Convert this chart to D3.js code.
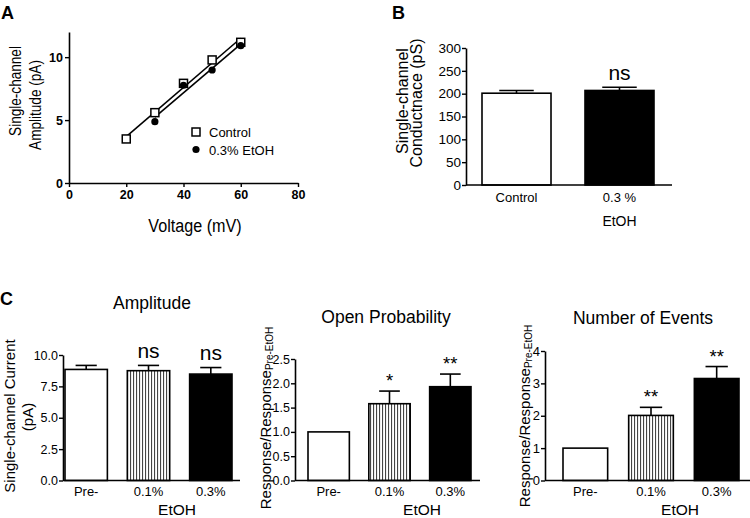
<!DOCTYPE html>
<html><head><meta charset="utf-8">
<script src="https://cdn.jsdelivr.net/npm/d3@7"></script>
<style>
body{margin:0;background:#fff;}
svg{display:block;font-family:"Liberation Sans",Arial,sans-serif;}
</style></head>
<body>
<svg id="c" width="750" height="518"></svg>
<script>
// ---------- DATA ----------
// Panel A: single-channel amplitude vs voltage
const voltageControl = [20, 30, 40, 50, 60];
const ampControl = [3.5, 5.59, 7.92, 9.78, 11.18];
const voltageEtOH = [30, 40, 50, 60];
const ampEtOH = [4.87, 7.77, 8.98, 10.91];
const aXTicks = [0, 20, 40, 60, 80];
const aYTicks = [0, 5, 10];

// Panel B: conductance
const bCategories = ["Control", "0.3 %"];
const bValues = [201, 207];
const bErrors = [6, 7];
const bTicks = [0, 50, 100, 150, 200, 250, 300];
const bSig = ["", "ns"];

// Panel C
const cCategories = ["Pre-", "0.1%", "0.3%"];
const ampValues = [8.85, 8.75, 8.48];
const ampErrors = [0.32, 0.42, 0.52];
const ampSig = ["", "ns", "ns"];
const ampTicks = [0, 2.5, 5, 7.5, 10];

const opValues = [1.0, 1.58, 1.93];
const opErrors = [0, 0.26, 0.26];
const opSig = ["", "*", "**"];
const opTicks = [0, 0.5, 1, 1.5, 2, 2.5];

const evValues = [1.0, 2.01, 3.15];
const evErrors = [0, 0.25, 0.37];
const evSig = ["", "**", "**"];
const evTicks = [0, 1, 2, 3, 4];

// ---------- DRAW ----------
const svg = d3.select("#c");
const defs = svg.append("defs");
const pat = defs.append("pattern").attr("id","hatch").attr("patternUnits","userSpaceOnUse")
  .attr("width",3).attr("height",6);
pat.append("rect").attr("width",3).attr("height",6).attr("fill","#fff");
pat.append("rect").attr("x",1).attr("width",1.1).attr("height",6).attr("fill","#444");
const fills = ["#fff","url(#hatch)","#000"];

function letter(t,x,y){svg.append("text").attr("x",x).attr("y",y).attr("font-size",18).attr("font-weight","bold").text(t);}
letter("A",1,19); letter("B",392,19); letter("C",0,305);

function yLabel(g, x, y, txt, size, sx){
  return g.append("text").attr("transform",`translate(${x},${y}) rotate(-90) scale(${sx||1},1)`)
    .attr("text-anchor","middle").attr("dominant-baseline","central").attr("font-size",size).text(txt);
}

function styleAxis(g, fs, bold){
  g.selectAll("path.domain").attr("stroke","#000").attr("stroke-width",1.6);
  g.selectAll(".tick line").attr("stroke","#000").attr("stroke-width",1.4);
  g.selectAll(".tick text").attr("font-size",fs).attr("font-family","Liberation Sans, Arial, sans-serif")
    .attr("font-weight", bold ? "bold" : "normal").attr("fill","#000");
}

// ---- Panel A ----
(function(){
  const x = d3.scaleLinear().domain([0,80]).range([69,298]);
  const y = d3.scaleLinear().domain([0,12]).range([183,32]);
  const gx = svg.append("g").attr("transform","translate(0,183)")
    .call(d3.axisBottom(x).tickValues(aXTicks).tickSize(4).tickSizeOuter(0).tickPadding(3));
  styleAxis(gx,12.5,true);
  const gy = svg.append("g").attr("transform","translate(69,0)")
    .call(d3.axisLeft(y).tickValues(aYTicks).tickSize(4).tickSizeOuter(0).tickPadding(2));
  styleAxis(gy,12.5,true);
  yLabel(svg,15,91,"Single-channel",17,0.8);
  yLabel(svg,35,105,"Amplitude (pA)",17,0.8);
  svg.append("text").attr("transform","translate(195,232) scale(0.85,1)").attr("text-anchor","middle").attr("font-size",19).text("Voltage (mV)");

  function fit(xs, ys){
    const mx=d3.mean(xs), my=d3.mean(ys);
    const s=d3.sum(xs,(v,i)=>(v-mx)*(ys[i]-my))/d3.sum(xs,v=>(v-mx)*(v-mx));
    const x0=d3.min(xs), x1=d3.max(xs);
    return [[x0,my+s*(x0-mx)],[x1,my+s*(x1-mx)]];
  }
  const line = d3.line().x(d=>x(d[0])).y(d=>y(d[1]));
  [fit(voltageControl,ampControl), fit(voltageEtOH,ampEtOH)].forEach(f=>{
    svg.append("path").attr("d",line(f)).attr("stroke","#000").attr("stroke-width",1.6).attr("fill","none");
  });
  svg.selectAll(".sq").data(voltageControl).enter().append("rect")
    .attr("x",(d)=>x(d)-4).attr("y",(d,i)=>y(ampControl[i])-4).attr("width",8).attr("height",8)
    .attr("fill","#fff").attr("stroke","#000").attr("stroke-width",1.5);
  svg.selectAll(".ci").data(voltageEtOH).enter().append("circle")
    .attr("cx",d=>x(d)).attr("cy",(d,i)=>y(ampEtOH[i])).attr("r",3.6).attr("fill","#000");
  // legend
  svg.append("rect").attr("x",192).attr("y",128).attr("width",8).attr("height",8).attr("fill","#fff").attr("stroke","#000").attr("stroke-width",1.5);
  svg.append("text").attr("x",209).attr("y",137).attr("font-size",13).text("Control");
  svg.append("circle").attr("cx",196).attr("cy",149.5).attr("r",3.6).attr("fill","#000");
  svg.append("text").attr("x",209).attr("y",154.5).attr("font-size",13).text("0.3% EtOH");
})();

// ---- Bar panel helper ----
function barPanel(o){
  const x = d3.scaleBand().domain(o.cats).range([o.b0,o.b1]).paddingInner(o.pin).paddingOuter(0);
  const y = d3.scaleLinear().domain(o.ydom).range([o.base,o.top]);
  const g = svg.append("g");
  g.selectAll("rect.bar").data(o.vals).enter().append("rect")
    .attr("x",(d,i)=>x(o.cats[i])).attr("width",x.bandwidth())
    .attr("y",d=>y(d)).attr("height",d=>o.base-y(d))
    .attr("fill",(d,i)=>o.fills[i]).attr("stroke","#000").attr("stroke-width",1.6);
  o.vals.forEach((v,i)=>{
    if(!o.errs[i]) return;
    const cx = x(o.cats[i])+x.bandwidth()/2, w = x.bandwidth()/4;
    g.append("line").attr("x1",cx).attr("x2",cx).attr("y1",y(v)).attr("y2",y(v+o.errs[i])).attr("stroke","#000").attr("stroke-width",1.6);
    g.append("line").attr("x1",cx-w).attr("x2",cx+w).attr("y1",y(v+o.errs[i])).attr("y2",y(v+o.errs[i])).attr("stroke","#000").attr("stroke-width",1.6);
    if(o.sig[i]){
      const isStar = o.sig[i].indexOf("*")>=0;
      g.append("text").attr("x",cx).attr("y",y(v+o.errs[i]) - (isStar?4:7.5))
        .attr("text-anchor","middle").attr("font-size",isStar?18.5:21).text(o.sig[i]);
    }
  });
  const gy = svg.append("g").attr("transform",`translate(${o.ax},0)`)
    .call(d3.axisLeft(y).tickValues(o.ticks).tickFormat(o.fmt).tickSize(4).tickSizeOuter(0).tickPadding(1));
  styleAxis(gy,o.tfs,false);
  svg.append("line").attr("x1",o.ax).attr("x2",o.axEnd).attr("y1",o.base).attr("y2",o.base).attr("stroke","#000").attr("stroke-width",1.6);
  o.cats.forEach(c=>{
    svg.append("text").attr("x",x(c)+x.bandwidth()/2).attr("y",o.labY).attr("text-anchor","middle").attr("font-size",o.lfs).text(c);
  });
  return x;
}

// ---- Panel B ----
(function(){
  const x = barPanel({cats:bCategories, vals:bValues, errs:bErrors, sig:bSig, fills:["#fff","#000"],
    b0:482,b1:654,pin:0.33, ydom:[0,300], base:185, top:48, ax:466, axEnd:672,
    ticks:bTicks, fmt:d3.format("d"), tfs:13.5, labY:202, lfs:13, });
  svg.append("text").attr("x",x("0.3 %")+x.bandwidth()/2).attr("y",226).attr("text-anchor","middle").attr("font-size",14).text("EtOH");
  yLabel(svg,402,101,"Single-channel",16);
  yLabel(svg,416,103,"Conductnace (pS)",16);
})();

// ---- Panel C: Amplitude ----
(function(){
  barPanel({cats:cCategories, vals:ampValues, errs:ampErrors, sig:ampSig, fills:fills,
    b0:65,b1:232,pin:0.32, ydom:[0,10], base:480.5, top:355, ax:63, axEnd:240,
    ticks:ampTicks, fmt:d3.format(".1f"), tfs:12.5, labY:496, lfs:13});
  svg.append("text").attr("x",177).attr("y",515).attr("text-anchor","middle").attr("font-size",15.5).text("EtOH");
  svg.append("text").attr("x",152).attr("y",309).attr("text-anchor","middle").attr("font-size",17.5).text("Amplitude");
  yLabel(svg,9,416,"Single-channel Current",15);
  yLabel(svg,27,417,"(pA)",15);
})();

// ---- Panel C: Open Probability ----
(function(){
  barPanel({cats:cCategories, vals:opValues, errs:opErrors, sig:opSig, fills:fills,
    b0:308,b1:471,pin:0.32, ydom:[0,2.5], base:480.5, top:359, ax:295, axEnd:480,
    ticks:opTicks, fmt:d3.format(".1f"), tfs:12.5, labY:496, lfs:13});
  svg.append("text").attr("x",422).attr("y",515).attr("text-anchor","middle").attr("font-size",15.5).text("EtOH");
  svg.append("text").attr("x",386).attr("y",323).attr("text-anchor","middle").attr("font-size",17.5).text("Open Probability");
  const t = svg.append("text").attr("transform","translate(265,418) rotate(-90)").attr("text-anchor","middle")
    .attr("dominant-baseline","central").attr("font-size",15);
  t.append("tspan").text("Response/Response");
  t.append("tspan").attr("font-size",10).attr("dy",4).text("Pre-EtOH");
})();

// ---- Panel C: Number of Events ----
(function(){
  barPanel({cats:cCategories, vals:evValues, errs:evErrors, sig:evSig, fills:fills,
    b0:563,b1:739,pin:0.32, ydom:[0,4], base:480.5, top:351, ax:545, axEnd:750,
    ticks:evTicks, fmt:d3.format("d"), tfs:13, labY:496, lfs:13});
  svg.append("text").attr("x",680).attr("y",515).attr("text-anchor","middle").attr("font-size",15.5).text("EtOH");
  svg.append("text").attr("x",643).attr("y",324).attr("text-anchor","middle").attr("font-size",17.5).text("Number of Events");
  const t = svg.append("text").attr("transform","translate(524,416) rotate(-90)").attr("text-anchor","middle")
    .attr("dominant-baseline","central").attr("font-size",15);
  t.append("tspan").text("Response/Response");
  t.append("tspan").attr("font-size",10).attr("dy",4).text("Pre-EtOH");
})();
</script>
</body></html>
